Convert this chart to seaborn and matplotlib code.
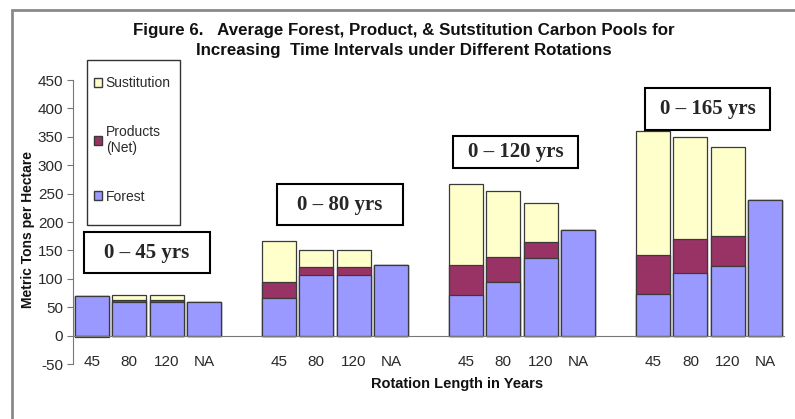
import numpy as np
import pandas as pd
import matplotlib.pyplot as plt
import seaborn as sns
from matplotlib.patches import Patch, Rectangle

# values (metric tons per hectare)
rotations = ["45", "80", "120", "NA"]
intervals = ["0 \u2013 45 yrs", "0 \u2013 80 yrs", "0 \u2013 120 yrs", "0 \u2013 165 yrs"]
forest = [[70, 59, 59, 60],
          [67, 106, 106, 125],
          [71, 94, 137, 186],
          [74, 110, 122, 238]]
products = [[-2, 4, 4, 0],
            [27, 14, 14, 0],
            [54, 45, 27, 0],
            [68, 60, 53, 0]]
substitution = [[0, 9, 9, 0],
                [73, 31, 31, 0],
                [142, 115, 69, 0],
                [219, 180, 157, 0]]

c_forest = "#9999FF"
c_prod = "#993366"
c_sust = "#FFFFCC"
edge = "#3a3a3a"

# one row per slot, blank slots between groups
rows = []
for g in range(4):
    for r, rot in enumerate(rotations):
        f, p, s = forest[g][r], products[g][r], substitution[g][r]
        rows.append(dict(slot=f"{g}-{rot}", label=rot,
                         forest=f, fp=f + max(p, 0), total=f + max(p, 0) + s,
                         neg=min(p, 0) if p < 0 else np.nan))
    if g < 3:
        rows.append(dict(slot=f"gap{g}", label="", forest=np.nan, fp=np.nan,
                         total=np.nan, neg=np.nan))
df = pd.DataFrame(rows)
order = list(df["slot"])

sns.set_style("white")
plt.rcParams["font.family"] = ["Liberation Sans", "DejaVu Sans"]
plt.rcParams["axes.unicode_minus"] = False

fig = plt.figure(figsize=(7.95, 4.19), dpi=100)
ax = fig.add_axes([73 / 795, 1 - 364 / 419, (784 - 73) / 795, (364 - 80) / 419])

bw = 0.91
kw = dict(order=order, width=bw, edgecolor=edge, linewidth=0.9, ax=ax)
d = df.dropna(subset=["total"])
sns.barplot(data=d, x="slot", y="total", color=c_sust, saturation=1, **kw)
sns.barplot(data=d, x="slot", y="fp", color=c_prod, saturation=1, **kw)
sns.barplot(data=d, x="slot", y="forest", color=c_forest, saturation=1, **kw)
dn = df.dropna(subset=["neg"])
sns.barplot(data=dn, x="slot", y="neg", color=c_prod, saturation=1, **kw)

ax.set_xlim(-0.5, len(order) - 0.5)
ax.set_ylim(-50, 450)
ax.set_yticks(np.arange(-50, 451, 50))
ax.set_xlabel("")
ax.set_ylabel("")

for s in ["top", "right"]:
    ax.spines[s].set_visible(False)
ax.spines["left"].set_color("#777777")
ax.spines["bottom"].set_color("#777777")
ax.spines["bottom"].set_position(("data", 0))

ax.set_xticks(np.arange(-0.5, len(order), 1.0))
ax.set_xticklabels([])
ax.set_xticks(np.arange(len(order)), minor=True)
ax.set_xticklabels(list(df["label"]), minor=True)
ax.tick_params(axis="x", which="major", direction="out", length=4, color="#777777")
ax.tick_params(axis="x", which="minor", length=0, pad=14, labelsize=11, labelcolor="#2a2a2a")
ax.tick_params(axis="y", direction="out", length=4, color="#777777", labelsize=11,
               labelcolor="#2a2a2a", pad=3, left=True)

# outer chart border
fig.add_artist(Rectangle((12 / 795, -0.1), 1.2, 1 - 10 / 419 + 0.1,
                         transform=fig.transFigure, fill=False,
                         edgecolor="#8a8a8a", linewidth=2))

fig.text(404 / 795, 1 - 30 / 419,
         "Figure 6.   Average Forest, Product, & Sutstitution Carbon Pools for",
         ha="center", va="center", fontsize=12.2, fontweight="bold", color="#111111")
fig.text(404 / 795, 1 - 50 / 419,
         "Increasing  Time Intervals under Different Rotations",
         ha="center", va="center", fontsize=12.2, fontweight="bold", color="#111111")
fig.text(28 / 795, 1 - 230 / 419, "Metric Tons per Hectare", rotation=90,
         ha="center", va="center", fontsize=10, fontweight="bold", color="#111111")
fig.text(457 / 795, 1 - 384 / 419, "Rotation Length in Years",
         ha="center", va="center", fontsize=10.5, fontweight="bold", color="#111111")

# interval boxes (pixel coordinates of the reference)
boxes = [(84, 210, 232, 273), (277, 403, 184, 225), (453, 578, 136, 168), (645, 770, 88, 130)]
for (x0, x1, y0, y1), txt in zip(boxes, intervals):
    fig.add_artist(Rectangle((x0 / 795, 1 - y1 / 419), (x1 - x0) / 795, (y1 - y0) / 419,
                             transform=fig.transFigure, facecolor="white",
                             edgecolor="black", linewidth=1.5, zorder=5))
    fig.text((x0 + x1) / 2 / 795, 1 - (y0 + y1) / 2 / 419, txt, ha="center", va="center",
             fontsize=15, fontweight="bold", family="Liberation Serif", zorder=6)

# legend: frame drawn separately so it can be tall and narrow
fig.add_artist(Rectangle((87 / 795, 1 - 225 / 419), 93 / 795, 165 / 419,
                         transform=fig.transFigure, facecolor="white",
                         edgecolor="#333333", linewidth=1.0, zorder=3))
handles = [Patch(facecolor=c_sust, edgecolor=edge, label="Sustitution"),
           Patch(facecolor=c_prod, edgecolor=edge, label="Products\n(Net)"),
           Patch(facecolor=c_forest, edgecolor=edge, label="Forest")]
leg = fig.legend(handles=handles, loc="upper left",
                 bbox_to_anchor=(94 / 795, 1 - 76 / 419), frameon=False,
                 fontsize=10, handlelength=0.6, handleheight=0.6,
                 handletextpad=0.25, labelspacing=2.5, borderpad=0, borderaxespad=0)
leg.set_zorder(4)
for t in leg.get_texts():
    t.set_color("#2a2a2a")

fig.savefig("out.png", dpi=100)
